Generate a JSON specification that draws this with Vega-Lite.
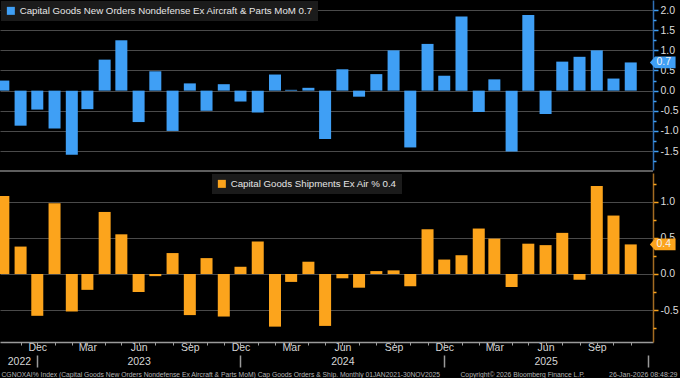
{
  "$schema": "https://vega.github.io/schema/vega-lite/v6.json",
  "width": 653,
  "height": 342,
  "autosize": {"type": "none"},
  "padding": {"left": 0, "top": 0, "right": 27, "bottom": 36},
  "background": "#000000",
  "config": {
    "view": {"stroke": null},
    "font": "Liberation Sans",
    "axis": {"labelFont": "Liberation Sans", "titleFont": "Liberation Sans", "grid": false},
    "legend": {"labelFont": "Liberation Sans"},
    "text": {"font": "Liberation Sans"}
  },
  "data": {
    "values": [
      {"date": "2022-10-15", "orders": 0.25, "shipments": 1.08},
      {"date": "2022-11-15", "orders": -0.87, "shipments": 0.38},
      {"date": "2022-12-15", "orders": -0.47, "shipments": -0.58},
      {"date": "2023-01-15", "orders": -0.94, "shipments": 0.98},
      {"date": "2023-02-15", "orders": -1.59, "shipments": -0.52},
      {"date": "2023-03-15", "orders": -0.46, "shipments": -0.22},
      {"date": "2023-04-15", "orders": 0.77, "shipments": 0.86},
      {"date": "2023-05-15", "orders": 1.25, "shipments": 0.55},
      {"date": "2023-06-15", "orders": -0.78, "shipments": -0.25},
      {"date": "2023-07-15", "orders": 0.48, "shipments": -0.03},
      {"date": "2023-08-15", "orders": -1.0, "shipments": 0.29},
      {"date": "2023-09-15", "orders": 0.18, "shipments": -0.57},
      {"date": "2023-10-15", "orders": -0.5, "shipments": 0.22},
      {"date": "2023-11-15", "orders": 0.16, "shipments": -0.59},
      {"date": "2023-12-15", "orders": -0.27, "shipments": 0.1},
      {"date": "2024-01-15", "orders": -0.54, "shipments": 0.45},
      {"date": "2024-02-15", "orders": 0.4, "shipments": -0.73},
      {"date": "2024-03-15", "orders": 0.02, "shipments": -0.11},
      {"date": "2024-04-15", "orders": 0.07, "shipments": 0.17},
      {"date": "2024-05-15", "orders": -1.2, "shipments": -0.72},
      {"date": "2024-06-15", "orders": 0.53, "shipments": -0.06},
      {"date": "2024-07-15", "orders": -0.15, "shipments": -0.19},
      {"date": "2024-08-15", "orders": 0.41, "shipments": 0.04},
      {"date": "2024-09-15", "orders": 1.0, "shipments": 0.05},
      {"date": "2024-10-15", "orders": -1.41, "shipments": -0.17},
      {"date": "2024-11-15", "orders": 1.16, "shipments": 0.62},
      {"date": "2024-12-15", "orders": 0.37, "shipments": 0.2},
      {"date": "2025-01-15", "orders": 1.84, "shipments": 0.26},
      {"date": "2025-02-15", "orders": -0.53, "shipments": 0.63},
      {"date": "2025-03-15", "orders": 0.28, "shipments": 0.49},
      {"date": "2025-04-15", "orders": -1.51, "shipments": -0.18},
      {"date": "2025-05-15", "orders": 1.88, "shipments": 0.42},
      {"date": "2025-06-15", "orders": -0.58, "shipments": 0.4},
      {"date": "2025-07-15", "orders": 0.72, "shipments": 0.57},
      {"date": "2025-08-15", "orders": 0.84, "shipments": -0.08},
      {"date": "2025-09-15", "orders": 1.0, "shipments": 1.22},
      {"date": "2025-10-15", "orders": 0.3, "shipments": 0.81},
      {"date": "2025-11-15", "orders": 0.7, "shipments": 0.41}
    ]
  },
  "layer": [
    {
      "layer": [
        {
          "mark": {"type": "bar", "width": 12},
          "encoding": {
            "x": {
              "field": "date", "type": "temporal",
              "scale": {"domain": [{"year": 2022, "month": 10, "date": 18}, {"year": 2025, "month": 12, "date": 16}], "nice": false},
              "axis": {
                "orient": "bottom",
                "values": [
                  {"year": 2022, "month": 12, "date": 15},
                  {"year": 2023, "month": 3, "date": 15}, {"year": 2023, "month": 6, "date": 15}, {"year": 2023, "month": 9, "date": 15}, {"year": 2023, "month": 12, "date": 15},
                  {"year": 2024, "month": 3, "date": 15}, {"year": 2024, "month": 6, "date": 15}, {"year": 2024, "month": 9, "date": 15}, {"year": 2024, "month": 12, "date": 15},
                  {"year": 2025, "month": 3, "date": 15}, {"year": 2025, "month": 6, "date": 15}, {"year": 2025, "month": 9, "date": 15}
                ],
                "format": "%b",
                "labelOverlap": false, "labelFlush": false, "labelBound": false,
                "labelFontSize": 10.5, "labelColor": "#d6d6d6", "labelPadding": -3,
                "tickSize": 3, "tickColor": "#a0a0a0", "tickWidth": 1,
                "domainColor": "#9a9a9a", "domainWidth": 1.5,
                "grid": false,
                "title": "CGNOXAI% Index (Capital Goods New Orders Nondefense Ex Aircraft & Parts MoM) Cap Goods Orders & Ship. Monthly 01JAN2021-30NOV2025",
                "titleX": 1, "titleY": 34, "titleAlign": "left", "titleAnchor": "start", "titleBaseline": "alphabetic",
                "titleFontSize": 6.75, "titleFontWeight": "normal", "titleColor": "#b4b4b4"
              }
            },
            "y": {
              "field": "orders", "type": "quantitative",
              "scale": {"domain": [-1.97, 2.25], "range": [170, 0], "nice": false},
              "axis": {
                "orient": "right",
                "values": [-1.5, -1.0, -0.5, 0, 0.5, 1.0, 1.5, 2.0],
                "labelExpr": "replace(format(datum.value, '.1f'), '\u2212', '-')",
                "labelFontSize": 10.5, "labelColor": "#dcdcdc", "labelPadding": 2, "labelOverlap": false, "labelFlush": false,
                "tickColor": "#3f9ff5", "tickWidth": 1.5, "tickSize": 5,
                "domainColor": "#2f6fb5", "domainWidth": 1.5,
                "grid": true, "gridColor": "#4a4a4a", "gridWidth": 1,
                "title": "Copyright\u00a9 2026 Bloomberg Finance L.P.",
                "titleAngle": 0, "titleX": -193, "titleY": 376, "titleAlign": "left", "titleAnchor": "start", "titleBaseline": "alphabetic",
                "titleFontSize": 6.75, "titleFontWeight": "normal", "titleColor": "#b4b4b4"
              }
            },
            "y2": {"datum": 0},
            "color": {
              "datum": "Capital Goods New Orders Nondefense Ex Aircraft & Parts MoM 0.7",
              "scale": {"range": ["#3f9ff5"]},
              "legend": {
                "orient": "none", "legendX": 1, "legendY": 1, "title": null,
                "fillColor": "#1b1b1b", "padding": 5, "symbolType": "square", "symbolSize": 64,
                "symbolStrokeWidth": 0, "labelFontSize": 9.7, "labelColor": "#e6e6e6", "labelLimit": 0, "labelOffset": 4
              }
            }
          }
        },
        {
          "transform": [{"filter": "year(datum.date) == 2025 && month(datum.date) == 10"}],
          "mark": {"type": "point", "shape": "M-1,0L-0.6,-0.46L1,-0.46L1,0.46L-0.6,0.46Z", "filled": true, "size": 660, "color": "#3f9ff5", "opacity": 1, "strokeWidth": 0, "xOffset": 32},
          "encoding": {
            "x": {"field": "date", "type": "temporal"},
            "y": {"field": "orders", "type": "quantitative"}
          }
        },
        {
          "transform": [{"filter": "year(datum.date) == 2025 && month(datum.date) == 10"}],
          "mark": {"type": "text", "xOffset": 33, "fontSize": 10.5, "color": "#f2f2f2", "align": "center", "baseline": "middle"},
          "encoding": {
            "x": {"field": "date", "type": "temporal"},
            "y": {"field": "orders", "type": "quantitative"},
            "text": {"field": "orders", "type": "quantitative", "format": ".1f"}
          }
        }
      ]
    },
    {
      "layer": [
        {
          "mark": {"type": "bar", "width": 12},
          "encoding": {
            "x": {
              "field": "date", "type": "temporal",
              "scale": {"domain": [{"year": 2022, "month": 10, "date": 18}, {"year": 2025, "month": 12, "date": 16}], "nice": false},
              "axis": {
                "orient": "bottom",
                "values": [
                  {"year": 2022, "month": 11, "date": 12}, {"year": 2022, "month": 12, "date": 15},
                  {"year": 2023, "month": 6, "date": 15}, {"year": 2023, "month": 12, "date": 15},
                  {"year": 2024, "month": 6, "date": 15}, {"year": 2024, "month": 12, "date": 15},
                  {"year": 2025, "month": 6, "date": 15}, {"year": 2025, "month": 12, "date": 16}
                ],
                "labelExpr": "month(datum.value) == 5 ? timeFormat(datum.value, '%Y') : (month(datum.value) == 10 ? '2022' : '')",
                "labelOverlap": false, "labelFlush": false, "labelBound": false,
                "labelFontSize": 10.5, "labelColor": "#d6d6d6", "labelPadding": -11,
                "offset": 13, "tickSize": 12, "tickColor": "#9a9a9a", "tickWidth": 1.5,
                "tickOpacity": {"condition": {"test": "month(datum.value) == 11", "value": 1}, "value": 0},
                "domain": false, "grid": false, "title": null
              }
            },
            "y": {
              "field": "shipments", "type": "quantitative",
              "scale": {"domain": [-0.943, 1.4], "range": [342, 173], "nice": false},
              "axis": {
                "orient": "right",
                "values": [-0.5, 0, 0.5, 1.0],
                "labelExpr": "replace(format(datum.value, '.1f'), '\u2212', '-')",
                "labelFontSize": 10.5, "labelColor": "#dcdcdc", "labelPadding": 2, "labelOverlap": false, "labelFlush": false,
                "tickColor": "#fca41c", "tickWidth": 1.5, "tickSize": 5,
                "domainColor": "#a36b22", "domainWidth": 1.5,
                "grid": true, "gridColor": "#4a4a4a", "gridWidth": 1,
                "title": "26-Jan-2026 08:48:29",
                "titleAngle": 0, "titleX": 24, "titleY": 376, "titleAlign": "right", "titleAnchor": "end", "titleBaseline": "alphabetic",
                "titleFontSize": 7, "titleFontWeight": "normal", "titleColor": "#b4b4b4"
              }
            },
            "y2": {"datum": 0},
            "color": {
              "datum": "Capital Goods Shipments Ex Air % 0.4",
              "scale": {"range": ["#fca41c"]},
              "legend": {
                "orient": "none", "legendX": 212, "legendY": 174, "title": null,
                "fillColor": "#1b1b1b", "padding": 5, "symbolType": "square", "symbolSize": 64,
                "symbolStrokeWidth": 0, "labelFontSize": 9.7, "labelColor": "#e6e6e6", "labelLimit": 0, "labelOffset": 4
              }
            }
          }
        },
        {
          "transform": [{"filter": "year(datum.date) == 2025 && month(datum.date) == 10"}],
          "mark": {"type": "point", "shape": "M-1,0L-0.6,-0.46L1,-0.46L1,0.46L-0.6,0.46Z", "filled": true, "size": 660, "color": "#fca41c", "opacity": 1, "strokeWidth": 0, "xOffset": 32},
          "encoding": {
            "x": {"field": "date", "type": "temporal"},
            "y": {"field": "shipments", "type": "quantitative"}
          }
        },
        {
          "transform": [{"filter": "year(datum.date) == 2025 && month(datum.date) == 10"}],
          "mark": {"type": "text", "xOffset": 33, "fontSize": 10.5, "color": "#f2f2f2", "align": "center", "baseline": "middle"},
          "encoding": {
            "x": {"field": "date", "type": "temporal"},
            "y": {"field": "shipments", "type": "quantitative"},
            "text": {"field": "shipments", "type": "quantitative", "format": ".1f"}
          }
        }
      ]
    },
    {
      "mark": {"type": "rule", "color": "#5e5e5e", "strokeWidth": 2},
      "encoding": {
        "y": {"datum": 0, "type": "quantitative", "scale": {"domain": [0, 1], "range": [171, 0], "nice": false}, "axis": null}
      }
    },
    {
      "mark": {"type": "point", "opacity": 0, "size": 0},
      "encoding": {
        "x": {
          "field": "date", "type": "temporal",
          "scale": {"domain": [{"year": 2022, "month": 10, "date": 18}, {"year": 2025, "month": 12, "date": 16}], "nice": false},
          "axis": {
            "orient": "bottom",
            "values": [
              {"year": 2022, "month": 11, "date": 15}, {"year": 2022, "month": 12, "date": 15},
              {"year": 2023, "month": 1, "date": 15}, {"year": 2023, "month": 2, "date": 15}, {"year": 2023, "month": 3, "date": 15}, {"year": 2023, "month": 4, "date": 15}, {"year": 2023, "month": 5, "date": 15}, {"year": 2023, "month": 6, "date": 15},
              {"year": 2023, "month": 7, "date": 15}, {"year": 2023, "month": 8, "date": 15}, {"year": 2023, "month": 9, "date": 15}, {"year": 2023, "month": 10, "date": 15}, {"year": 2023, "month": 11, "date": 15}, {"year": 2023, "month": 12, "date": 15},
              {"year": 2024, "month": 1, "date": 15}, {"year": 2024, "month": 2, "date": 15}, {"year": 2024, "month": 3, "date": 15}, {"year": 2024, "month": 4, "date": 15}, {"year": 2024, "month": 5, "date": 15}, {"year": 2024, "month": 6, "date": 15},
              {"year": 2024, "month": 7, "date": 15}, {"year": 2024, "month": 8, "date": 15}, {"year": 2024, "month": 9, "date": 15}, {"year": 2024, "month": 10, "date": 15}, {"year": 2024, "month": 11, "date": 15}, {"year": 2024, "month": 12, "date": 15},
              {"year": 2025, "month": 1, "date": 15}, {"year": 2025, "month": 2, "date": 15}, {"year": 2025, "month": 3, "date": 15}, {"year": 2025, "month": 4, "date": 15}, {"year": 2025, "month": 5, "date": 15}, {"year": 2025, "month": 6, "date": 15},
              {"year": 2025, "month": 7, "date": 15}, {"year": 2025, "month": 8, "date": 15}, {"year": 2025, "month": 9, "date": 15}, {"year": 2025, "month": 10, "date": 15}, {"year": 2025, "month": 11, "date": 15}
            ],
            "labels": false, "domain": false, "grid": false,
            "tickSize": 3, "tickColor": "#a0a0a0", "tickWidth": 1, "title": null
          }
        },
        "y": {
          "field": "orders", "type": "quantitative",
          "scale": {"domain": [-1.97, 2.25], "range": [170, 0], "nice": false},
          "axis": {
            "orient": "right",
            "values": [-1.75, -1.25, -0.75, -0.25, 0.25, 0.75, 1.25, 1.75],
            "labels": false, "domain": false, "grid": false,
            "tickSize": 3, "tickColor": "#3f9ff5", "tickWidth": 1.5, "title": null
          }
        }
      }
    },
    {
      "mark": {"type": "point", "opacity": 0, "size": 0},
      "encoding": {
        "x": {"field": "date", "type": "temporal", "scale": {"domain": [{"year": 2022, "month": 10, "date": 18}, {"year": 2025, "month": 12, "date": 16}], "nice": false}, "axis": null},
        "y": {
          "field": "shipments", "type": "quantitative",
          "scale": {"domain": [-0.943, 1.4], "range": [342, 173], "nice": false},
          "axis": {
            "orient": "right",
            "values": [-0.75, -0.25, 0.25, 0.75, 1.25],
            "labels": false, "domain": false, "grid": false,
            "tickSize": 3, "tickColor": "#fca41c", "tickWidth": 1.5, "title": null
          }
        }
      }
    }
  ],
  "resolve": {
    "scale": {"y": "independent", "color": "independent"},
    "axis": {"x": "independent", "y": "independent"},
    "legend": {"color": "independent"}
  }
}
